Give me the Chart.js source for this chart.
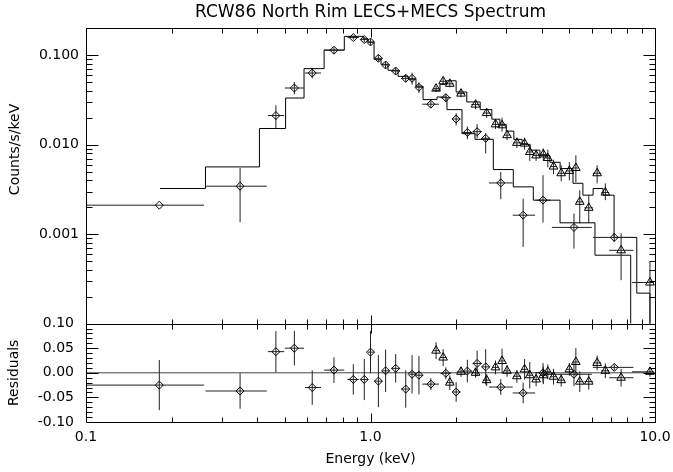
<!DOCTYPE html>
<html>
<head>
<meta charset="utf-8">
<script src="https://cdn.jsdelivr.net/npm/chart.js@4.4.1/dist/chart.umd.min.js"></script>
<style>
    html, body { margin: 0; padding: 0; background: #fff; }
    #wrap { width: 673px; height: 472px; }
</style>
</head>
<body>
<div id="wrap"><canvas id="spectrum"></canvas></div>
<script>
// LECS (diamonds)
const lecsE      = [0.181, 0.348, 0.465, 0.540, 0.624, 0.744, 0.870, 0.951, 1.00, 1.066, 1.13, 1.226, 1.33, 1.40, 1.48, 1.63, 1.84, 2.00, 2.19, 2.37, 2.54, 2.87, 3.44, 4.04, 5.19, 7.19];
const lecsElo    = [0.100, 0.263, 0.436, 0.500, 0.588, 0.687, 0.830, 0.920, 0.98, 1.030, 1.10, 1.180, 1.28, 1.37, 1.44, 1.52, 1.76, 1.94, 2.10, 2.29, 2.46, 2.61, 3.16, 3.80, 4.34, 6.05];
const lecsEhi    = [0.260, 0.432, 0.497, 0.584, 0.670, 0.809, 0.910, 0.980, 1.03, 1.100, 1.17, 1.270, 1.37, 1.44, 1.53, 1.74, 1.92, 2.07, 2.28, 2.46, 2.63, 3.16, 3.79, 4.30, 6.00, 8.40];
const lecsFlux   = [0.00211, 0.00344, 0.0212, 0.0431, 0.0634, 0.114, 0.158, 0.150, 0.141, 0.0926, 0.078, 0.0668, 0.0553, 0.0553, 0.0439, 0.0284, 0.0336, 0.0194, 0.0137, 0.0140, 0.0118, 0.00374, 0.00163, 0.0024, 0.00119, 0.00092];
const lecsFluxLo = [0.00211, 0.00136, 0.0152, 0.0366, 0.055, 0.105, 0.150, 0.140, 0.130, 0.085, 0.071, 0.061, 0.050, 0.047, 0.038, 0.026, 0.030, 0.0165, 0.0115, 0.0118, 0.0080, 0.00246, 0.00072, 0.00135, 0.00069, 0.00082];
const lecsFluxHi = [0.00211, 0.0055, 0.0276, 0.0503, 0.071, 0.123, 0.166, 0.160, 0.152, 0.101, 0.085, 0.073, 0.061, 0.064, 0.050, 0.031, 0.037, 0.0225, 0.0160, 0.0170, 0.0135, 0.00497, 0.0025, 0.00456, 0.0017, 0.00102];
const lecsRes    = [-0.025, -0.037, 0.043, 0.050, -0.030, 0.0055, -0.0135, -0.0135, 0.042, -0.017, 0.004, 0.009, -0.033, -0.003, -0.005, -0.023, -0.001, -0.039, 0.0035, 0.019, 0.012, -0.029, -0.041, 0.000, -0.003, 0.011];
const lecsResErr = [0.051, 0.036, 0.042, 0.035, 0.035, 0.026, 0.031, 0.042, 0.043, 0.053, 0.043, 0.029, 0.038, 0.039, 0.039, 0.012, 0.012, 0.020, 0.023, 0.026, 0.036, 0.016, 0.021, 0.020, 0.024, 0.006];

// MECS (triangles)
const mecsE      = [1.70, 1.80, 1.90, 2.08, 2.34, 2.56, 2.75, 2.90, 3.02, 3.27, 3.48, 3.63, 3.82, 4.05, 4.20, 4.40, 4.68, 5.00, 5.27, 5.44, 5.85, 6.26, 6.69, 7.60, 9.60];
const mecsElo    = [1.66, 1.75, 1.85, 2.01, 2.26, 2.48, 2.68, 2.83, 2.95, 3.17, 3.38, 3.55, 3.72, 3.93, 4.13, 4.30, 4.55, 4.86, 5.13, 5.30, 5.65, 6.05, 6.47, 6.90, 8.30];
const mecsEhi    = [1.75, 1.85, 1.96, 2.15, 2.42, 2.64, 2.83, 2.97, 3.10, 3.38, 3.57, 3.72, 3.93, 4.15, 4.30, 4.52, 4.82, 5.13, 5.40, 5.60, 6.05, 6.47, 6.90, 8.40, 9.90];
const mecsFlux   = [0.0424, 0.0512, 0.048, 0.0373, 0.0281, 0.0226, 0.0169, 0.0165, 0.0128, 0.0105, 0.0103, 0.0083, 0.0076, 0.0078, 0.0071, 0.0057, 0.0048, 0.0051, 0.0055, 0.0023, 0.00197, 0.0048, 0.00292, 0.00066, 0.000288];
const mecsFluxLo = [0.039, 0.047, 0.044, 0.034, 0.025, 0.020, 0.0150, 0.0140, 0.0113, 0.0092, 0.0088, 0.0066, 0.0066, 0.0066, 0.0056, 0.0047, 0.0039, 0.0040, 0.0038, 0.00132, 0.00133, 0.0037, 0.0024, 0.000306, 0.00005];
const mecsFluxHi = [0.046, 0.056, 0.052, 0.041, 0.031, 0.025, 0.0190, 0.0200, 0.0145, 0.0120, 0.0120, 0.0100, 0.0088, 0.0091, 0.0088, 0.0068, 0.0059, 0.0064, 0.0076, 0.0031, 0.00273, 0.0059, 0.0037, 0.00102, 0.00049];
const mecsRes    = [0.045, 0.031, -0.020, 0.002, 0.000, -0.015, 0.011, 0.024, 0.004, -0.007, 0.007, -0.005, -0.0135, -0.005, 0.002, -0.008, -0.015, 0.007, 0.022, -0.018, -0.018, 0.020, 0.004, -0.010, 0.002];
const mecsResErr = [0.017, 0.017, 0.015, 0.010, 0.010, 0.012, 0.014, 0.025, 0.012, 0.013, 0.021, 0.027, 0.014, 0.018, 0.015, 0.016, 0.013, 0.013, 0.028, 0.021, 0.016, 0.015, 0.015, 0.018, 0.010];

// folded models (step histograms, value holds from each edge to the next)
const lecsModelE    = [0.182, 0.263, 0.407, 0.503, 0.584, 0.687, 0.809, 0.943, 0.980, 1.029, 1.089, 1.152, 1.25, 1.355, 1.445, 1.53, 1.713, 1.857, 2.097, 2.329, 2.702, 3.176, 3.735, 4.636, 6.152, 8.214, 10.0];
const lecsModelFlux = [0.00324, 0.00565, 0.0152, 0.0333, 0.071, 0.1146, 0.163, 0.153, 0.140, 0.0902, 0.0793, 0.068, 0.0582, 0.054, 0.0451, 0.032, 0.0342, 0.0247, 0.0133, 0.0115, 0.00528, 0.00338, 0.0024, 0.00134, 0.000582, 0.00005, 0.00005];
const mecsModelE    = [1.66, 1.755, 1.84, 2.00, 2.18, 2.43, 2.67, 2.85, 3.00, 3.19, 3.41, 3.64, 3.94, 4.27, 4.64, 5.15, 5.58, 6.06, 6.57, 7.18, 8.63, 9.60, 10.0];
const mecsModelFlux = [0.0407, 0.0474, 0.0519, 0.0389, 0.0301, 0.0247, 0.0193, 0.0169, 0.0142, 0.0115, 0.0101, 0.0087, 0.0076, 0.00637, 0.00542, 0.00371, 0.00273, 0.00324, 0.00273, 0.00092, 0.000219, 0.00005, 0.00005];

// axes
const xRange = [0.1, 10];
const fluxRange = [0.0001, 0.2];
const resRange = [-0.10, 0.10];
const xLabels = [0.1, 1, 10];
const fluxLabels = [0.001, 0.01, 0.1];
const resLabels = [-0.10, -0.05, 0.00, 0.05, 0.10];

const INK = '#000';
const LINE = '#222';
const FONT = 'DejaVu Sans';

document.addEventListener('DOMContentLoaded', function() {
    renderChart();
});

function points(xs, ys) {
    return xs.map((x, i) => ({x: x, y: ys[i]}));
}

// horizontal bars, broken by null points
function xBars(lo, hi, ys) {
    const out = [];
    ys.forEach((y, i) => {
        out.push({x: lo[i], y: y}, {x: hi[i], y: y}, {x: hi[i], y: null});
    });
    return out;
}

// vertical bars
function yBars(xs, lo, hi) {
    const out = [];
    xs.forEach((x, i) => {
        out.push({x: x, y: lo[i]}, {x: x, y: hi[i]}, {x: x, y: null});
    });
    return out;
}

function lineSet(data, axis, extra) {
    return Object.assign({
        data: data,
        yAxisID: axis,
        showLine: true,
        borderColor: LINE,
        borderWidth: 1,
        pointRadius: 0,
        pointHitRadius: 0,
        spanGaps: false,
        fill: false,
        clip: 0
    }, extra || {});
}

function markerSet(data, axis, style, radius) {
    return {
        data: data,
        yAxisID: axis,
        showLine: false,
        pointStyle: style,
        pointRadius: radius,
        pointBorderColor: INK,
        pointBackgroundColor: 'rgba(0,0,0,0)',
        pointBorderWidth: 1,
        clip: 2
    };
}

// IDL style inward ticks on every side of both panels
const frameTicks = {
    id: 'frameTicks',
    afterDatasetsDraw(chart) {
        const {ctx, scales} = chart;
        const x = scales.x, y = scales.y, yr = scales.yr;
        const px = v => Math.round(v) + 0.5;
        ctx.save();
        ctx.strokeStyle = INK;
        ctx.lineWidth = 1;
        ctx.beginPath();

        const L = px(x.left), R = px(x.right);
        [[y.top, y.bottom], [yr.top, yr.bottom]].forEach(([t, b]) => {
            ctx.rect(L, px(t), R - L, px(b) - px(t));
        });

        // x ticks
        const xTicks = [];
        for (let d = 0.1; d < 10; d *= 10) {
            for (let m = 1; m < 10; m++) xTicks.push({v: d * m, major: m === 1});
        }
        xTicks.push({v: 10, major: true});
        const edges = [[y.top, 1], [y.bottom, -1], [yr.top, 1], [yr.bottom, -1]];
        xTicks.forEach(t => {
            const xp = px(x.getPixelForValue(t.v));
            const len = t.major ? 9 : 5;
            edges.forEach(([e, dir]) => {
                ctx.moveTo(xp, px(e));
                ctx.lineTo(xp, px(e) + dir * len);
            });
        });

        // flux ticks
        for (let d = 0.0001; d < 0.2; d *= 10) {
            for (let m = 1; m < 10; m++) {
                const v = d * m;
                if (v <= fluxRange[0] * 1.0001 || v > fluxRange[1]) continue;
                const yp = px(y.getPixelForValue(v));
                const len = m === 1 ? 12 : 6;
                ctx.moveTo(L, yp); ctx.lineTo(L + len, yp);
                ctx.moveTo(R, yp); ctx.lineTo(R - len, yp);
            }
        }

        // residual ticks every 0.01
        for (let k = -10; k <= 10; k++) {
            const yp = px(yr.getPixelForValue(k / 100));
            const len = k % 5 === 0 ? 12 : 6;
            ctx.moveTo(L, yp); ctx.lineTo(L + len, yp);
            ctx.moveTo(R, yp); ctx.lineTo(R - len, yp);
        }
        ctx.stroke();

        // flux axis title sits a little above the panel centre, as in the IDL plot
        ctx.fillStyle = INK;
        ctx.font = '14px "' + FONT + '"';
        ctx.textAlign = 'center';
        ctx.textBaseline = 'middle';
        ctx.translate(15, y.top + (y.bottom - y.top) * 0.41);
        ctx.rotate(-Math.PI / 2);
        ctx.fillText('Counts/s/keV', 0, 0);
        ctx.restore();
    }
};

function renderChart() {
    const ctx = document.getElementById('spectrum').getContext('2d');

    const lecsResLo = lecsRes.map((r, i) => r - lecsResErr[i]);
    const lecsResHi = lecsRes.map((r, i) => r + lecsResErr[i]);
    const mecsResLo = mecsRes.map((r, i) => r - mecsResErr[i]);
    const mecsResHi = mecsRes.map((r, i) => r + mecsResErr[i]);

    const datasets = [
        // spectrum panel
        markerSet(points(lecsE, lecsFlux), 'y', 'rectRot', 4),
        markerSet(points(mecsE, mecsFlux), 'y', 'triangle', 5),
        lineSet(xBars(lecsElo, lecsEhi, lecsFlux), 'y'),
        lineSet(yBars(lecsE, lecsFluxLo, lecsFluxHi), 'y'),
        lineSet(xBars(mecsElo, mecsEhi, mecsFlux), 'y'),
        lineSet(yBars(mecsE, mecsFluxLo, mecsFluxHi), 'y'),
        lineSet(points(lecsModelE, lecsModelFlux), 'y', {stepped: 'before', borderColor: INK}),
        lineSet(points(mecsModelE, mecsModelFlux), 'y', {stepped: 'before', borderColor: INK}),
        // residual panel
        markerSet(points(lecsE, lecsRes), 'yr', 'rectRot', 4),
        markerSet(points(mecsE, mecsRes), 'yr', 'triangle', 5),
        lineSet(xBars(lecsElo, lecsEhi, lecsRes), 'yr'),
        lineSet(yBars(lecsE, lecsResLo, lecsResHi), 'yr'),
        lineSet(xBars(mecsElo, mecsEhi, mecsRes), 'yr'),
        lineSet(yBars(mecsE, mecsResLo, mecsResHi), 'yr'),
        lineSet(points(xRange, [0, 0]), 'yr', {borderColor: '#444'})
    ];

    new Chart(ctx, {
        type: 'line',
        data: {datasets: datasets},
        options: {
            responsive: true,
            maintainAspectRatio: false,
            animation: false,
            devicePixelRatio: 1,
            layout: {padding: {left: 0, right: 18, top: 0, bottom: 0}},
            plugins: {
                legend: {display: false},
                tooltip: {enabled: false},
                title: {
                    display: true,
                    fullSize: false,
                    text: 'RCW86 North Rim LECS+MECS Spectrum',
                    color: INK,
                    font: {family: FONT, size: 17, weight: 'normal'},
                    padding: {top: 2, bottom: 6}
                }
            },
            scales: {
                x: {
                    type: 'logarithmic',
                    min: xRange[0],
                    max: xRange[1],
                    grid: {display: false, drawTicks: false},
                    border: {display: false},
                    afterBuildTicks: s => { s.ticks = xLabels.map(v => ({value: v})); },
                    afterFit: s => {
                        s.height = 50;
                        s.paddingLeft = 0;
                        s.paddingRight = 0;
                    },
                    ticks: {
                        autoSkip: false,
                        maxRotation: 0,
                        padding: 7,
                        color: INK,
                        font: {family: FONT, size: 14},
                        callback: v => v.toFixed(1)
                    },
                    title: {
                        display: true,
                        text: 'Energy (keV)',
                        color: INK,
                        font: {family: FONT, size: 14},
                        padding: {top: 0, bottom: 4}
                    }
                },
                y: {
                    type: 'logarithmic',
                    position: 'left',
                    stack: 'panels',
                    stackWeight: 3,
                    weight: 1,
                    min: fluxRange[0],
                    max: fluxRange[1],
                    grid: {display: false, drawTicks: false},
                    border: {display: false},
                    afterBuildTicks: s => { s.ticks = fluxLabels.map(v => ({value: v})); },
                    afterFit: s => { s.width = 86; },
                    ticks: {
                        autoSkip: false,
                        padding: 7,
                        color: INK,
                        font: {family: FONT, size: 14},
                        callback: v => Number(v).toFixed(3)
                    }
                },
                yr: {
                    type: 'linear',
                    position: 'left',
                    stack: 'panels',
                    stackWeight: 1,
                    weight: 0,
                    min: resRange[0],
                    max: resRange[1],
                    grid: {display: false, drawTicks: false},
                    border: {display: false},
                    afterBuildTicks: s => { s.ticks = resLabels.map(v => ({value: v})); },
                    afterFit: s => { s.width = 86; },
                    ticks: {
                        autoSkip: false,
                        padding: 12,
                        color: INK,
                        font: {family: FONT, size: 14},
                        callback: v => Number(v).toFixed(2)
                    },
                    title: {
                        display: true,
                        text: 'Residuals',
                        color: INK,
                        font: {family: FONT, size: 14},
                        padding: {top: 6, bottom: 0}
                    }
                }
            }
        },
        plugins: [frameTicks]
    });
}
</script>
</body>
</html>
